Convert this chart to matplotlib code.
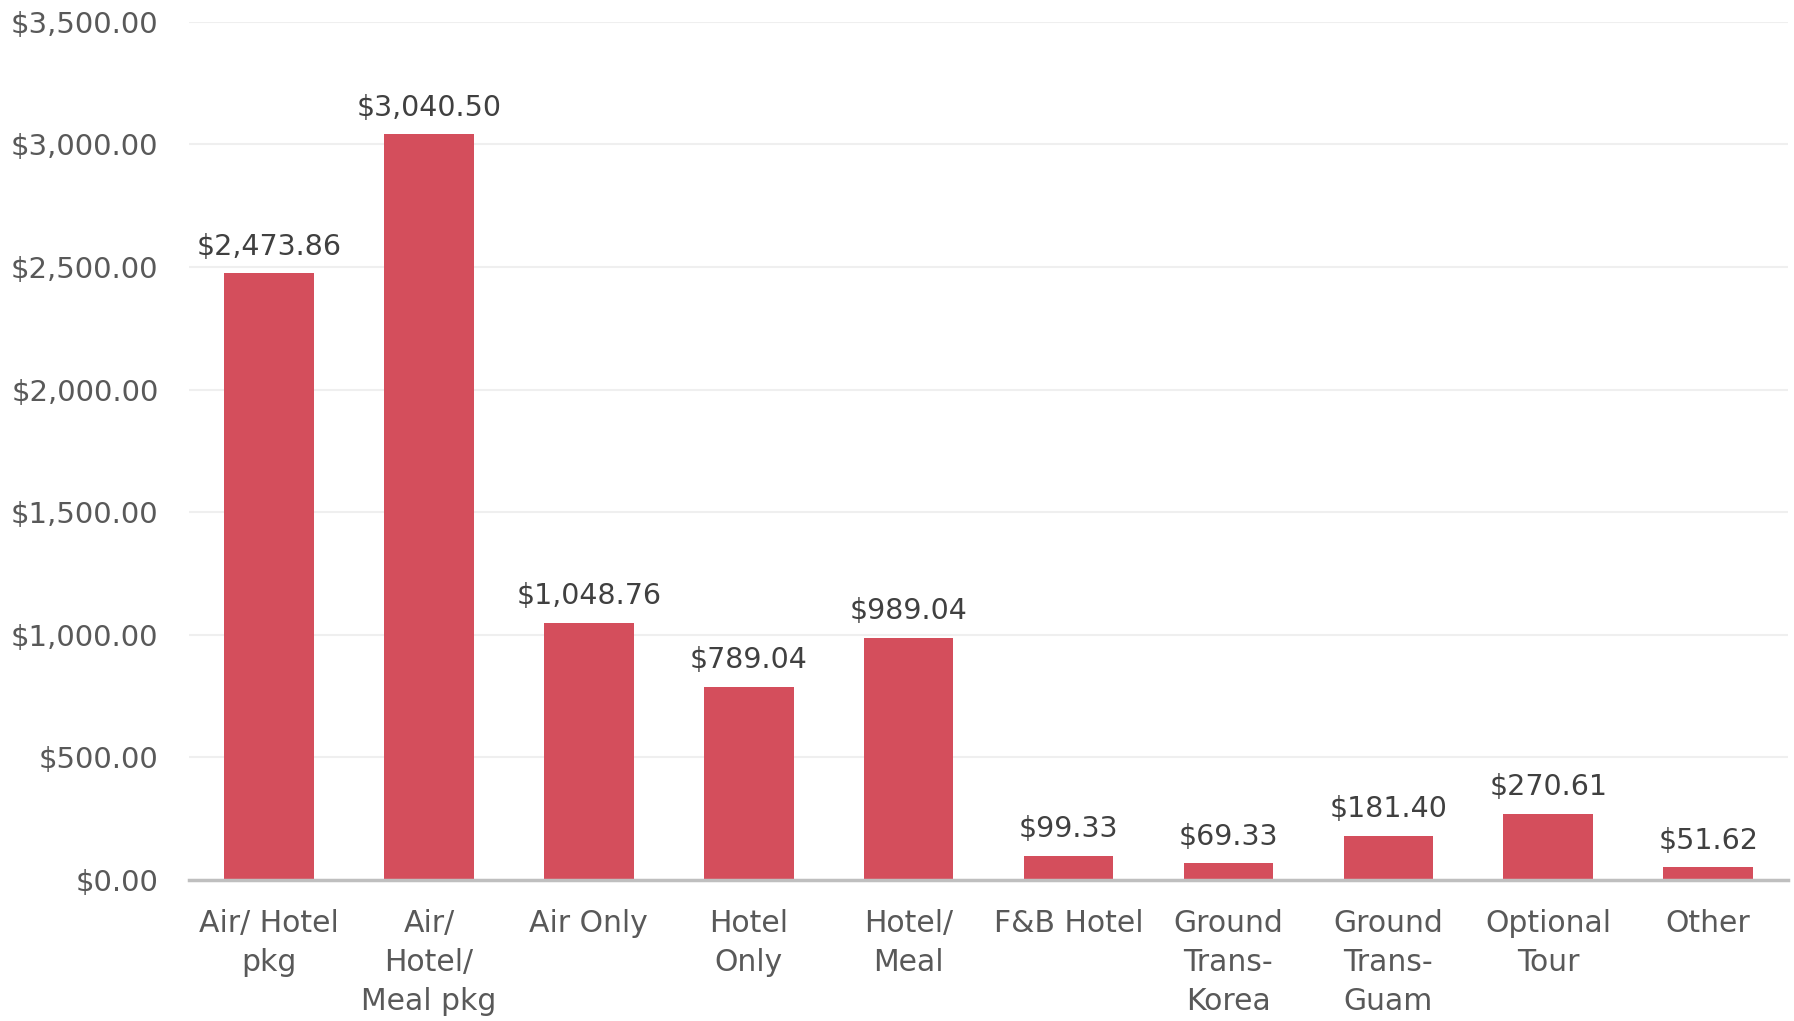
import matplotlib.pyplot as plt
from matplotlib.ticker import FuncFormatter

categories = ["Air/ Hotel\npkg", "Air/\nHotel/\nMeal pkg", "Air Only", "Hotel\nOnly",
              "Hotel/\nMeal", "F&B Hotel", "Ground\nTrans-\nKorea", "Ground\nTrans-\nGuam",
              "Optional\nTour", "Other"]
values = [2473.86, 3040.50, 1048.76, 789.04, 989.04, 99.33, 69.33, 181.40, 270.61, 51.62]
y_ticks = [0, 500, 1000, 1500, 2000, 2500, 3000, 3500]

plt.rcParams['font.family'] = ['DejaVu Sans']

fig = plt.figure(figsize=(17.94, 10.21), dpi=100)
ax = fig.add_axes([0.1054, 0.138, 0.8913, 0.8408])

x = range(len(values))
bars = ax.bar(x, values, width=0.56, color='#d44e5c', zorder=3)

# data labels
for b, v in zip(bars, values):
    ax.annotate(f"${v:,.2f}", (b.get_x() + b.get_width() / 2, v),
                xytext=(0, 9), textcoords='offset points',
                ha='center', va='bottom', fontsize=20.5, color='#404040')

ax.set_xlim(-0.5, len(values) - 0.5)
ax.set_ylim(0, 3500)
ax.set_yticks(y_ticks)
ax.yaxis.set_major_formatter(FuncFormatter(lambda v, p: f"${v:,.2f}"))
ax.set_xticks(list(x))
ax.set_xticklabels(categories, linespacing=1.43)

ax.tick_params(axis='y', length=0, pad=22, labelsize=21, labelcolor='#595959')
ax.tick_params(axis='x', length=0, pad=21, labelsize=21.5, labelcolor='#595959')

ax.grid(axis='y', color='#efefef', linewidth=1.5, zorder=0)
for s in ['left', 'right', 'top']:
    ax.spines[s].set_visible(False)
ax.spines['bottom'].set_color('#bfbfbf')
ax.spines['bottom'].set_linewidth(2.5)
ax.spines['bottom'].set_zorder(4)

fig.savefig('out.png', dpi=100)
